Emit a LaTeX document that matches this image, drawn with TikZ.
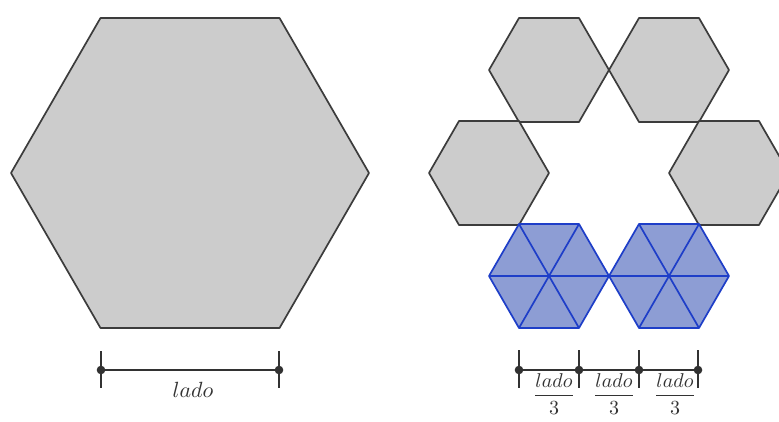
\documentclass[tikz,border=0pt]{standalone}
\usepackage{amsmath}
\definecolor{hexgray}{RGB}{204,204,204}
\definecolor{hexline}{RGB}{60,60,60}
\definecolor{bluefill}{RGB}{141,157,212}
\definecolor{blueline}{RGB}{30,62,200}
\definecolor{barline}{RGB}{50,50,50}
\tikzset{
  grayhex/.style={fill=hexgray, draw=hexline, line width=1.7pt, line join=round},
  bigtext/.style={inner sep=0pt, text=black!80},
  barstyle/.style={draw=barline, line width=2pt},
  tickstyle/.style={draw=barline, line width=1.7pt},
  dotstyle/.style={fill=barline}
}
\newcommand{\hexat}[4]{% center x, center y, side, style
  \path[#4] ({#1+#3},#2) -- ({#1+#3/2},{#2-0.8660254*#3}) -- ({#1-#3/2},{#2-0.8660254*#3})
    -- ({#1-#3},#2) -- ({#1-#3/2},{#2+0.8660254*#3}) -- ({#1+#3/2},{#2+0.8660254*#3}) -- cycle;}
\newcommand{\bluehexat}[2]{%
  \path[fill=bluefill, draw=blueline, line width=1.7pt, line join=round]
    ({#1+60},#2) -- ({#1+30},{#2-51.96}) -- ({#1-30},{#2-51.96})
    -- ({#1-60},#2) -- ({#1-30},{#2+51.96}) -- ({#1+30},{#2+51.96}) -- cycle;
  \draw[blueline, line width=1.7pt] ({#1-60},#2) -- ({#1+60},#2);
  \draw[blueline, line width=1.7pt] ({#1-30},{#2-51.96}) -- ({#1+30},{#2+51.96});
  \draw[blueline, line width=1.7pt] ({#1+30},{#2-51.96}) -- ({#1-30},{#2+51.96});}
\begin{document}
\begin{tikzpicture}[x=1pt,y=-1pt]
\clip (0,0) rectangle (779,421);
\fill[white] (0,0) rectangle (779,421);
% big hexagon
\hexat{190}{173}{179}{grayhex}
% ring of small hexagons
\hexat{549}{70}{60}{grayhex}
\hexat{669}{70}{60}{grayhex}
\hexat{489}{173}{60}{grayhex}
\hexat{729}{173}{60}{grayhex}
\bluehexat{549}{276}
\bluehexat{669}{276}
% left measure bar
\coordinate (L1) at (101,370);
\coordinate (L2) at (279,370);
\draw[tickstyle] (101,351) -- (101,388);
\draw[tickstyle] (279,351) -- (279,388);
\draw[barstyle] (L1) -- (L2);
\fill[dotstyle] (L1) circle (4.3);
\fill[dotstyle] (L2) circle (4.3);
\node[bigtext] (lado) at (193,390) {\scalebox{2.2}{$lado$}};
% right measure bar
\coordinate (R1) at (519,370);
\coordinate (R2) at (579,370);
\coordinate (R3) at (639,370);
\coordinate (R4) at (698,370);
\foreach \xx in {519,579,639,698} {\draw[tickstyle] (\xx,350) -- (\xx,388);}
\draw[barstyle] (R1) -- (R2) -- (R3) -- (R4);
\foreach \p in {R1,R2,R3,R4} {\fill[dotstyle] (\p) circle (4.3);}
\node[bigtext] (f1) at (554,394) {\scalebox{2.0}{$\dfrac{lado}{3}$}};
\node[bigtext] (f2) at (614,394) {\scalebox{2.0}{$\dfrac{lado}{3}$}};
\node[bigtext] (f3) at (675,394) {\scalebox{2.0}{$\dfrac{lado}{3}$}};
\end{tikzpicture}
\end{document}
